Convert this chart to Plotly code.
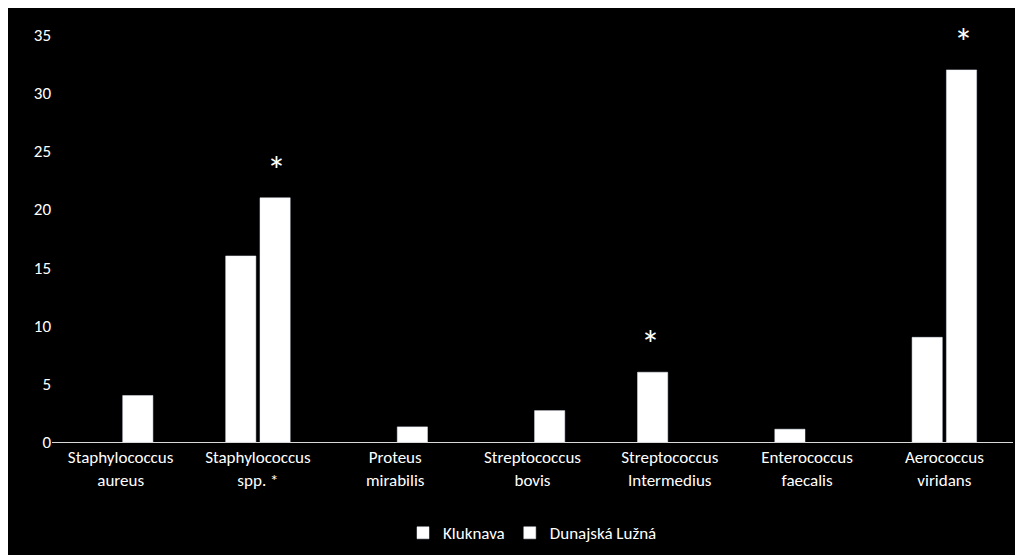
import plotly.graph_objects as go

categories = ["Staphylococcus<br>aureus", "Staphylococcus<br>spp. *", "Proteus<br>mirabilis",
              "Streptococcus<br>bovis", "Streptococcus<br>Intermedius", "Enterococcus<br>faecalis",
              "Aerococcus<br>viridans"]
kluknava = [None, 16, None, None, 6, 1.1, 9]
dunajska = [4, 21, 1.3, 2.7, None, None, 32]
# significance marks: (category index, series offset sign, bar value)
stars = [(1, 1, 21), (4, -1, 6), (6, 1, 32)]

font = dict(family="Carlito, Lato, sans-serif", color="white", size=17)
fig = go.Figure()
fig.add_bar(x=categories, y=kluknava, name="Kluknava", marker=dict(color="white"))
fig.add_bar(x=categories, y=dunajska, name="Dunajská Lužná", marker=dict(color="white"))
for i, s, v in stars:
    fig.add_annotation(x=categories[i], y=v, xshift=s*19, yshift=2, yanchor="bottom",
                       text="*", showarrow=False, font=dict(family=font["family"], color="white", size=38))
fig.update_layout(
    width=1023, height=555, paper_bgcolor="black", plot_bgcolor="black",
    margin=dict(l=44, r=18, t=27, b=117), font=font,
    barmode="group", bargap=0.5, bargroupgap=0.12,
    legend=dict(orientation="h", x=0.5, xanchor="center", y=-0.18, yanchor="top",
                font=dict(size=17, color="white")),
    xaxis=dict(showline=True, linecolor="#d9d9d9", linewidth=1, tickfont=dict(size=17), ticks=""),
    yaxis=dict(range=[0, 35], dtick=5, showgrid=False, zeroline=False, tickfont=dict(size=17)),
)
fig.write_html("out.html")
